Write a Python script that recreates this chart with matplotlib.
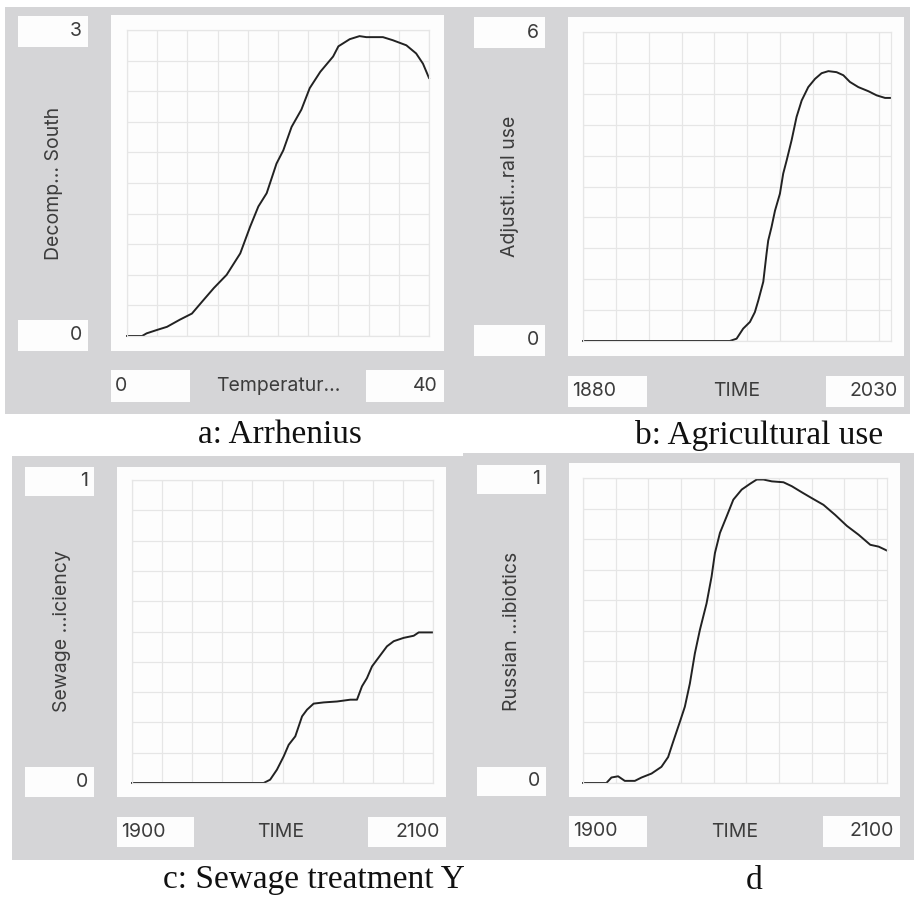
import matplotlib.pyplot as plt
from matplotlib.patches import Rectangle
import numpy as np

W, H = 914, 898

# a: Arrhenius (temperature vs decomposition)
a_x = [0, 2, 2.6, 4, 5.3, 7.0, 8.6, 10.1, 11.5, 13.2, 15.0, 16.3, 17.4, 18.5, 19.8, 20.7,
       21.8, 23.1, 24.2, 25.6, 27.3, 28.0, 29.5, 30.8, 31.7, 33.9, 35.2, 37.0, 38.3, 39.2, 40]
a_y = [0, 0, 0.026, 0.06, 0.09, 0.16, 0.22, 0.35, 0.47, 0.60, 0.81, 1.07, 1.27, 1.40, 1.69, 1.82,
       2.05, 2.22, 2.43, 2.59, 2.74, 2.84, 2.91, 2.94, 2.93, 2.93, 2.90, 2.85, 2.77, 2.67, 2.53]

# b: Agricultural use
b_x = [1880, 1951.5, 1954.8, 1958, 1961.3, 1963.7, 1965.4, 1967.8, 1969.4, 1970.2, 1971.8, 1973.5,
       1975.9, 1977.5, 1979.2, 1981.6, 1984.0, 1986.5, 1989.7, 1993, 1996.2, 1999.5, 2003.5, 2006.8,
       2010, 2014.1, 2019, 2023, 2027.1, 2030]
b_y = [0, 0, 0.045, 0.24, 0.37, 0.56, 0.79, 1.15, 1.70, 1.95, 2.21, 2.53,
       2.86, 3.25, 3.51, 3.90, 4.35, 4.67, 4.93, 5.09, 5.20, 5.24, 5.22, 5.16,
       5.03, 4.93, 4.85, 4.77, 4.72, 4.72]

# c: Sewage treatment
c_x = [1900, 1987.5, 1991.8, 1996.3, 2000.8, 2004.1, 2008.5, 2013, 2016.3, 2020.7, 2027.4, 2036.2,
       2045.1, 2049.5, 2052.8, 2056.1, 2059.5, 2062.8, 2066.1, 2069.4, 2073.9, 2080.5, 2087.2,
       2090.5, 2100]
c_y = [0, 0, 0.011, 0.044, 0.088, 0.126, 0.154, 0.22, 0.242, 0.262, 0.266, 0.269,
       0.275, 0.275, 0.319, 0.346, 0.385, 0.407, 0.429, 0.451, 0.468, 0.479, 0.486,
       0.497, 0.497]

# d: Russian antibiotics
d_x = [1900, 1915.4, 1918.7, 1923.1, 1927.5, 1934.1, 1938.5, 1945.1, 1951.6, 1956, 1959.3, 1963.7,
       1967, 1970.3, 1973.6, 1976.9, 1981.3, 1984.6, 1986.8, 1990.1, 1994.5, 1998.9, 2004.4,
       2009.9, 2014.3, 2018.7, 2024.2, 2031.9, 2037.4, 2044, 2050.5, 2058.2, 2065.9, 2073.6,
       2081.3, 2089, 2094.5, 2100]
d_y = [0, 0, 0.018, 0.022, 0.007, 0.007, 0.018, 0.031, 0.053, 0.085, 0.135, 0.20,
       0.25, 0.326, 0.425, 0.502, 0.589, 0.677, 0.754, 0.82, 0.874, 0.929, 0.962,
       0.981, 0.995, 0.995, 0.989, 0.986, 0.973, 0.953, 0.934, 0.912, 0.879, 0.843,
       0.814, 0.781, 0.775, 0.762]

x_ranges = [(0, 40), (1880, 2030), (1900, 2100), (1900, 2100)]
y_ranges = [(0, 3), (0, 6), (0, 1), (0, 1)]
x_labels = ["Temperatur...", "TIME", "TIME", "TIME"]
y_labels = ["Decomp... South", "Adjusti...ral use", "Sewage ...iciency", "Russian ...ibiotics"]
captions = ["a: Arrhenius", "b: Agricultural use", "c: Sewage treatment Y", "d"]
series = [(a_x, a_y), (b_x, b_y), (c_x, c_y), (d_x, d_y)]

GREY = "#d5d5d7"
GRID = "#e6e6e6"
TXT = "#3c3c3c"
SANS = ["Inter", "DejaVu Sans"]
FS = 14

# pixel layout (x0, y0, x1, y1), y measured from the top
layout = [
    dict(panel=(5, 7, 452, 414), box=(111, 15, 444, 351), grid=(127, 30, 429, 336),
         ymax=(18, 16, 88, 47), ymin=(18, 320, 88, 351),
         xmin=(111, 370, 190, 402), xmax=(366, 370, 444, 402),
         ylab=(54, 183), xlab=(278, 386), cap=(280, 435), vstep=None),
    dict(panel=(452, 7, 910, 414), box=(568, 17, 904, 356), grid=(583, 32, 891, 341),
         ymax=(474, 17, 545, 48), ymin=(474, 325, 545, 356),
         xmin=(568, 376, 647, 407), xmax=(826, 376, 904, 407),
         ylab=(510, 186), xlab=(737, 391), cap=(759, 435), vstep=16.0),
    dict(panel=(12, 456, 463, 860), box=(117, 467, 446, 797), grid=(132, 480, 433, 783),
         ymax=(25, 467, 94, 496), ymin=(25, 767, 94, 797),
         xmin=(117, 817, 194, 847), xmax=(368, 817, 446, 847),
         ylab=(62, 631), xlab=(281, 832), cap=(314, 880), vstep=None),
    dict(panel=(463, 453, 914, 860), box=(569, 463, 900, 797), grid=(583, 478, 887, 783),
         ymax=(477, 465, 546, 494), ymin=(477, 767, 546, 796),
         xmin=(569, 816, 647, 847), xmax=(823, 816, 900, 847),
         ylab=(512, 631), xlab=(735, 832), cap=(754, 881), vstep=21.5),
]


def frac_rect(r):
    x0, y0, x1, y1 = r
    return [x0 / W, 1 - y1 / H, (x1 - x0) / W, (y1 - y0) / H]


def add_box(fig, r, color, z=1):
    x, y, w, h = frac_rect(r)
    fig.add_artist(Rectangle((x, y), w, h, transform=fig.transFigure,
                             facecolor=color, edgecolor="none", zorder=z))


def box_text(fig, r, s, align):
    x0, y0, x1, y1 = r
    yc = 1 - (y0 + y1) / 2 / H
    if align == "right":
        fig.text((x1 - 6) / W, yc, s, ha="right", va="center", fontsize=FS,
                 color=TXT, family=SANS, zorder=5)
    else:
        fig.text((x0 + 4) / W, yc, s, ha="left", va="center", fontsize=FS,
                 color=TXT, family=SANS, zorder=5)


fig = plt.figure(figsize=(W / 100, H / 100), dpi=100)
fig.patch.set_facecolor("white")

for i, L in enumerate(layout):
    add_box(fig, L["panel"], GREY, z=0)
    add_box(fig, L["box"], "#fdfdfd", z=1)
    for k in ("ymax", "ymin", "xmin", "xmax"):
        add_box(fig, L[k], "#fdfdfd", z=1)

    xlo, xhi = x_ranges[i]
    ylo, yhi = y_ranges[i]
    box_text(fig, L["ymax"], str(yhi), "right")
    box_text(fig, L["ymin"], str(ylo), "right")
    box_text(fig, L["xmin"], str(xlo), "left")
    box_text(fig, L["xmax"], str(xhi), "right")

    fig.text(L["ylab"][0] / W, 1 - L["ylab"][1] / H, y_labels[i], rotation=90,
             ha="center", va="center", fontsize=FS, color=TXT, family=SANS)
    fig.text(L["xlab"][0] / W, 1 - L["xlab"][1] / H, x_labels[i],
             ha="center", va="center", fontsize=FS, color=TXT, family=SANS)
    fig.text(L["cap"][0] / W, 1 - L["cap"][1] / H, captions[i],
             ha="center", va="center", fontsize=24, color="#111111",
             family="Liberation Serif")

    ax = fig.add_axes(frac_rect(L["grid"]))
    ax.set_facecolor("none")
    ax.set_zorder(3)
    ax.set_xlim(xlo, xhi)
    ax.set_ylim(ylo, yhi)
    if L["vstep"] is None:
        xt = np.linspace(xlo, xhi, 11)
    else:
        xt = np.arange(xlo, xhi, L["vstep"])
    ax.set_xticks(xt)
    ax.set_yticks(np.linspace(ylo, yhi, 11))
    ax.grid(True, color=GRID, linewidth=0.9)
    ax.tick_params(length=0, labelbottom=False, labelleft=False)
    for sp in ax.spines.values():
        sp.set_color(GRID)
        sp.set_linewidth(0.9)
    xs, ys = series[i]
    ax.plot(xs, ys, color="#222222", linewidth=1.4, clip_on=False)

fig.savefig("out.png", dpi=100, facecolor="white")
